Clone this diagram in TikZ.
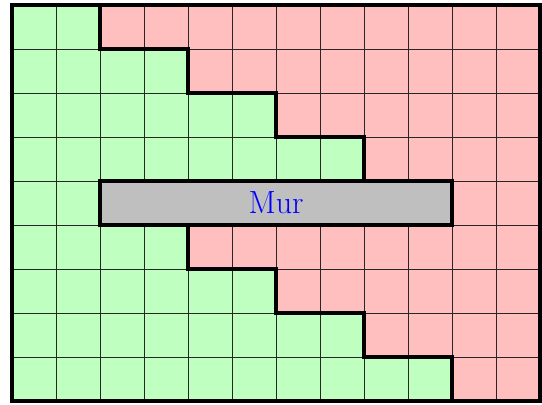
\documentclass[tikz,border=0pt]{standalone}
\usepackage{xcolor}
\usepackage{tikz}
\definecolor{ZoneVerte}{HTML}{BFFFBF}
\definecolor{ZoneRouge}{HTML}{FFBFBF}
\definecolor{MurGris}{HTML}{BFBFBF}

\begin{document}
\begin{tikzpicture}[frontiere/.style={line width=2.2pt,line join=miter},quadrillage/.style={line width=.5pt,black!85}]
\useasboundingbox (-0.273,-0.068) rectangle (12.045,9.114);
\fill[ZoneVerte] (0,0) rectangle (12,9);
\foreach \g [count=\r from 0] in {10,8,6,4,10,8,6,4,2} \fill[ZoneRouge] (\g,\r) rectangle (12,\r+1);
\draw[quadrillage] (0,0) grid (12,9);
\node[draw,line width=2.2pt,fill=MurGris,minimum width=8cm,minimum height=1cm,inner sep=0pt,font=\huge,text=blue] (mur) at (6,4.5) {Mur};
\draw[frontiere] (2,9)--(2,8)--(4,8)--(4,7)--(6,7)--(6,6)--(8,6)--(8,5);
\draw[frontiere] (4,4)--(4,3)--(6,3)--(6,2)--(8,2)--(8,1)--(10,1)--(10,0);
\draw[frontiere,line width=2.6pt] (0,0) rectangle (12,9);
\end{tikzpicture}
\end{document}
